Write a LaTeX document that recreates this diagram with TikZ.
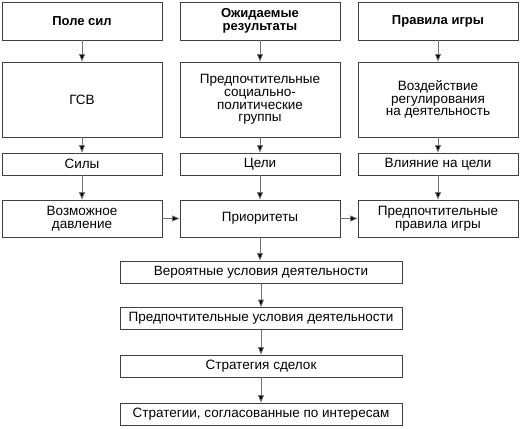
\documentclass[tikz,border=0pt]{standalone}
\usepackage{fontspec}
\setmainfont{Liberation Sans}
\usetikzlibrary{arrows.meta}

\begin{document}
\begin{tikzpicture}[x=1pt,y=-1pt,
  box/.style={draw=black!75, line width=0.8pt, minimum width=160pt, align=center, inner sep=0pt, font=\fontsize{13.5}{12.6}\selectfont},
  head/.style={box, font=\bfseries\fontsize{13}{13.5}\selectfont},
  wide/.style={box, minimum width=282pt, minimum height=22pt},
  link/.style={draw=black!55, line width=0.8pt, -{Triangle[length=7.5pt,width=6pt,fill=black]}}]
\useasboundingbox (0,0) rectangle (521,428);
% headers
\node[head, minimum height=38] (pole) at (82,21) {Поле сил};
\node[head, minimum height=38] (ozhid) at (260,21) {Ожидаемые\\результаты};
\node[head, minimum height=38] (igra) at (438,21) {Правила игры};
% second row
\node[box, minimum height=75] (gsv) at (82,99.5) {ГСВ};
\node[box, minimum height=75] (gruppy) at (260,99.5) {Предпочтительные\\социально-\\политические\\группы};
\node[box, minimum height=75] (vozd) at (438,99.5) {Воздействие\\регулирования\\на деятельность};
% third row
\node[box, minimum height=22] (sily) at (82,164) {Силы};
\node[box, minimum height=22] (celi) at (260,164) {Цели};
\node[box, minimum height=22] (vliyan) at (438,164) {Влияние на цели};
% fourth row
\node[box, minimum height=37] (davl) at (82,218.5) {Возможное\\давление};
\node[box, minimum height=37] (prior) at (260,218.5) {Приоритеты};
\node[box, minimum height=37] (prav) at (438,218.5) {Предпочтительные\\правила игры};
% chain below
\node[wide] (veroyat) at (261,272) {Вероятные условия деятельности};
\node[wide] (predusl) at (261,318.5) {Предпочтительные условия деятельности};
\node[wide] (sdelki) at (261,366) {Стратегия сделок};
\node[wide] (strat) at (261,414) {Стратегии, согласованные по интересам};
% arrows
\foreach \a/\b in {pole/gsv, gsv/sily, sily/davl, ozhid/gruppy, gruppy/celi, celi/prior, igra/vozd, vozd/vliyan, vliyan/prav} {
  \draw[link] (\a) -- (\b);
}
\draw[link] (davl) -- (prior);
\draw[link] (prior) -- (prav);
\draw[link] (prior.south) -- (prior.south |- veroyat.north);
\foreach \a/\b in {veroyat/predusl, predusl/sdelki, sdelki/strat} {
  \draw[link] (\a) -- (\b);
}
\end{tikzpicture}
\end{document}
